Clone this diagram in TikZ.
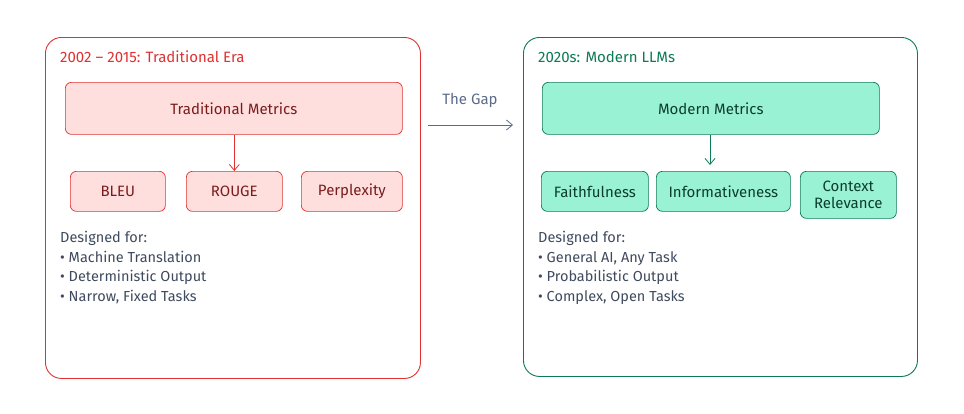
\documentclass[tikz,border=0pt]{standalone}
\usepackage{fontspec}
\setmainfont{Fira Sans}
\usetikzlibrary{arrows.meta}
\definecolor{redb}{HTML}{E03131}
\definecolor{redf}{HTML}{FFDEDE}
\definecolor{redt}{HTML}{7A1C1C}
\definecolor{grnb}{HTML}{0B7A55}
\definecolor{grnf}{HTML}{9AF2D4}
\definecolor{grnt}{HTML}{0B3D2E}
\definecolor{gapc}{HTML}{5C6B8A}
\definecolor{txt}{HTML}{3F4A5E}
\newcommand{\bigf}{\fontsize{15}{16}\selectfont}
\newcommand{\listf}{\fontsize{14.5}{19.5}\selectfont}
\tikzset{
 panel/.style={draw, rounded corners=16pt, line width=0.9pt, anchor=north west, inner sep=0pt},
 rbox/.style={draw=redb, fill=redf, rounded corners=6pt, line width=0.7pt, anchor=north west, inner sep=0pt, text=redt, font=\bigf},
 gbox/.style={draw=grnb, fill=grnf, rounded corners=6pt, line width=0.7pt, anchor=north west, inner sep=0pt, text=grnt, font=\bigf},
 lst/.style={anchor=north west, align=left, text=txt, font=\listf, inner sep=0pt},
 arr/.style={-{Straight Barb[length=6pt,width=10pt]}, line width=0.8pt}
}
\begin{document}
\begin{tikzpicture}[x=1pt,y=-1pt]
\useasboundingbox (0,0) rectangle (964,413);
\node[panel, draw=redb, minimum width=375pt, minimum height=341pt] (L) at (45,37) {};
\node[panel, draw=grnb, minimum width=394pt, minimum height=339pt] (R) at (523,37) {};
\node[anchor=west, text=redb, font=\bigf, inner sep=0pt] (lt) at (60,57) {2002 -- 2015: Traditional Era};
\node[anchor=west, text=grnb, font=\bigf, inner sep=0pt] (rt) at (538,57) {2020s: Modern LLMs};
\node[rbox, minimum width=337pt, minimum height=52pt] (tm) at (65,82) {Traditional Metrics};
\node[rbox, minimum width=95pt, minimum height=40pt] (b1) at (70,171) {BLEU};
\node[rbox, minimum width=96pt, minimum height=40pt] (b2) at (186,171) {ROUGE};
\node[rbox, minimum width=101pt, minimum height=40pt] (b3) at (301,171) {Perplexity};
\draw[arr, redb] (tm.south -| b2.north) -- (b2.north);
\node[gbox, minimum width=337pt, minimum height=52pt] (mm) at (542,82) {Modern Metrics};
\node[gbox, minimum width=107pt, minimum height=40pt] (g1) at (541,171) {Faithfulness};
\node[gbox, minimum width=134pt, minimum height=40pt] (g2) at (656,171) {Informativeness};
\node[gbox, minimum width=96pt, minimum height=47pt, align=center] (g3) at (800,171) {Context\\[1pt]Relevance};
\coordinate (ga) at (710,165);
\draw[arr, grnb] (mm.south -| ga) -- (ga);
\node[lst] (ld) at (60,231) {Designed for:\\
\textbullet\ Machine Translation\\
\textbullet\ Deterministic Output\\
\textbullet\ Narrow, Fixed Tasks};
\node[lst] (rd) at (538,231) {Designed for:\\
\textbullet\ General AI, Any Task\\
\textbullet\ Probabilistic Output\\
\textbullet\ Complex, Open Tasks};
\coordinate (a1) at (428,125);
\coordinate (a2) at (513,125);
\draw[arr, gapc] (a1) -- (a2);
\node[text=gapc, font=\bigf] (gap) at (470,100) {The Gap};
\end{tikzpicture}
\end{document}
